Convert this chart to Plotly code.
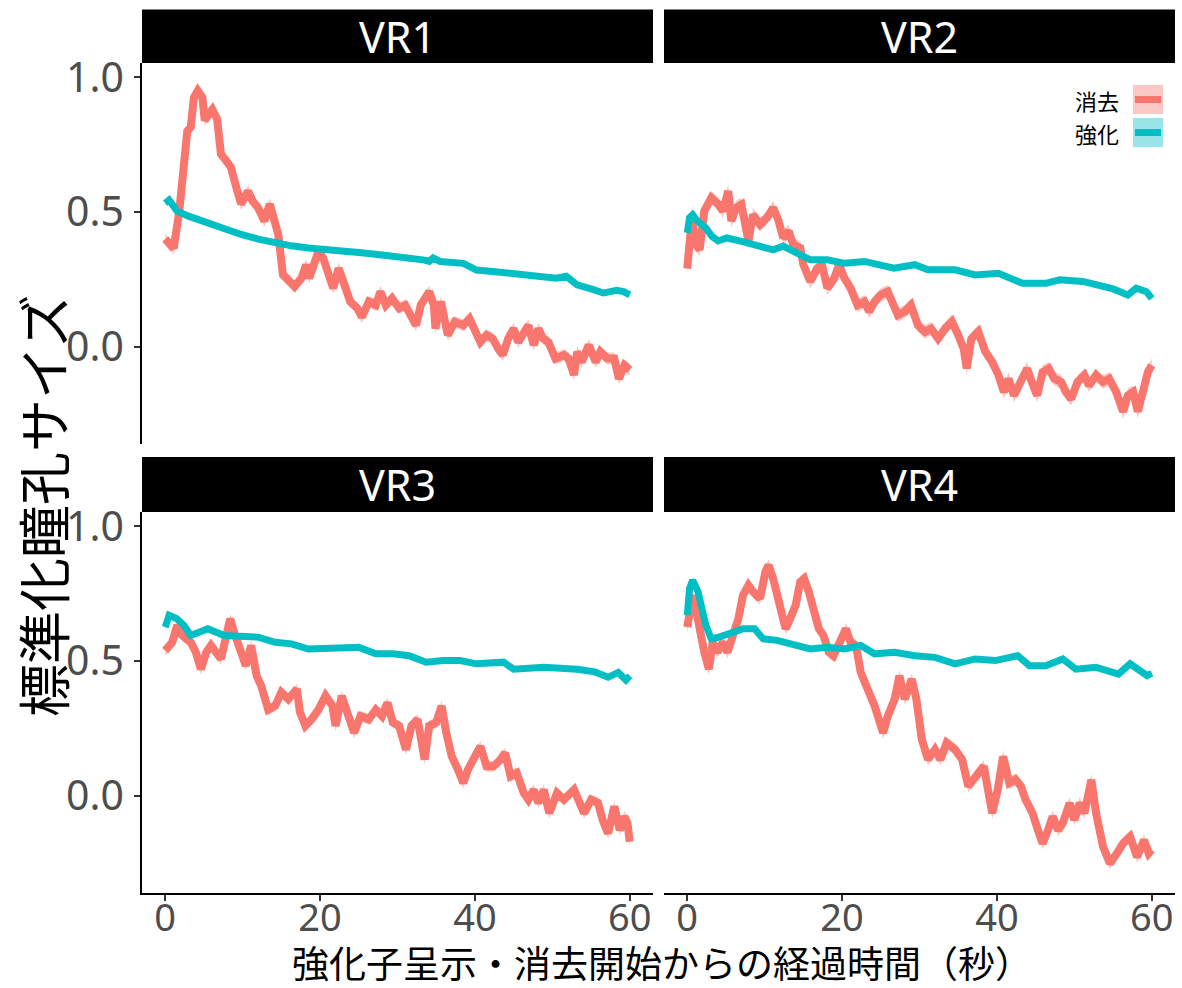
import plotly.graph_objects as go

# ---- data: mean normalized pupil size over time (s) per VR schedule ----
panels = ["VR1", "VR2", "VR3", "VR4"]
conditions = ["消去", "強化"]

ext_vr1 = [(0.0, 0.40), (0.5, 0.38), (1.1, 0.366), (1.8, 0.50), (2.4, 0.68), (2.85, 0.80),
           (3.3, 0.815), (3.7, 0.925), (4.2, 0.95), (4.8, 0.925), (5.1, 0.84), (5.7, 0.87),
           (6.1, 0.88), (6.7, 0.845), (7.2, 0.715), (7.9, 0.69), (8.5, 0.665), (9.1, 0.60),
           (9.8, 0.53), (10.7, 0.578), (11.3, 0.54), (12.0, 0.516), (12.8, 0.467), (13.5, 0.53),
           (14.1, 0.48), (14.6, 0.417), (15.2, 0.268), (15.9, 0.248), (16.7, 0.224), (17.6, 0.255),
           (18.2, 0.305), (18.6, 0.255), (19.3, 0.33), (19.8, 0.355), (20.4, 0.33), (21.1, 0.268),
           (21.7, 0.218), (22.4, 0.292), (23.0, 0.243), (23.9, 0.168), (24.8, 0.144), (25.4, 0.111),
           (26.3, 0.168), (27.2, 0.155), (27.8, 0.205), (28.5, 0.155), (29.3, 0.18), (30.2, 0.144),
           (31.0, 0.155), (31.7, 0.118), (32.4, 0.08), (33.0, 0.155), (34.1, 0.205), (34.7, 0.155),
           (34.9, 0.068), (35.6, 0.168), (36.5, 0.044), (37.4, 0.093), (38.5, 0.08), (39.3, 0.105),
           (40.0, 0.068), (40.7, 0.018), (41.5, 0.044), (42.3, 0.031), (43.0, -0.006), (43.6, -0.03),
           (44.3, 0.031), (45.0, 0.068), (45.6, 0.018), (46.3, 0.056), (46.9, 0.08), (47.6, 0.007),
           (48.2, 0.068), (48.8, 0.031), (49.5, 0.018), (50.4, -0.043), (51.5, -0.03), (52.1, -0.043),
           (52.8, -0.104), (53.2, -0.018), (53.8, -0.056), (54.7, 0.007), (55.6, -0.056), (56.2, -0.018),
           (57.1, -0.043), (58.0, -0.043), (58.6, -0.118), (59.3, -0.068), (60.0, -0.085)]

rei_vr1 = [(0.0, 0.533), (0.5, 0.545), (1.0, 0.525), (1.5, 0.504), (3.0, 0.485), (5.4, 0.46),
           (7.5, 0.44), (9.8, 0.417), (12.0, 0.40), (14.1, 0.385), (16.3, 0.375), (18.5, 0.367),
           (20.5, 0.36), (22.8, 0.354), (25.0, 0.35), (27.2, 0.344), (29.4, 0.338), (31.5, 0.33),
           (33.5, 0.322), (34.1, 0.317), (34.6, 0.33), (35.5, 0.317), (37.0, 0.315), (38.5, 0.31),
           (39.2, 0.30), (40.2, 0.285), (42.3, 0.28), (44.5, 0.273), (46.7, 0.265), (48.8, 0.255),
           (50.5, 0.255), (51.8, 0.262), (53.2, 0.23), (55.0, 0.215), (56.6, 0.20), (57.5, 0.205),
           (58.3, 0.21), (59.2, 0.205), (60.0, 0.193)]

ext_vr2 = [(0.0, 0.29), (0.3, 0.441), (0.6, 0.479), (1.15, 0.379), (1.6, 0.36), (2.2, 0.504),
           (3.1, 0.553), (4.0, 0.53), (4.6, 0.504), (5.3, 0.578), (5.7, 0.467), (6.3, 0.516),
           (7.0, 0.528), (7.9, 0.393), (8.5, 0.49), (9.4, 0.454), (10.3, 0.479), (11.1, 0.516),
           (11.8, 0.467), (12.4, 0.404), (13.1, 0.43), (13.7, 0.379), (14.6, 0.367), (15.0, 0.305),
           (15.9, 0.243), (16.8, 0.292), (17.4, 0.305), (18.1, 0.218), (19.0, 0.255), (19.6, 0.305),
           (20.3, 0.255), (21.1, 0.218), (22.0, 0.155), (22.9, 0.168), (23.5, 0.131), (24.2, 0.168),
           (25.0, 0.193), (25.9, 0.205), (26.5, 0.155), (27.2, 0.118), (28.1, 0.131), (28.9, 0.155),
           (29.8, 0.08), (30.7, 0.056), (31.5, 0.068), (32.4, 0.031), (33.3, 0.068), (34.2, 0.094),
           (35.0, 0.044), (35.7, -0.006), (36.1, -0.08), (36.7, 0.031), (37.6, 0.056), (38.5, -0.018),
           (39.4, -0.056), (40.2, -0.105), (40.9, -0.167), (41.5, -0.118), (42.2, -0.18), (43.0, -0.13),
           (43.9, -0.08), (44.5, -0.13), (45.2, -0.18), (45.9, -0.093), (46.7, -0.08), (47.4, -0.118),
           (48.3, -0.13), (48.9, -0.167), (49.6, -0.193), (50.4, -0.13), (51.3, -0.105), (51.9, -0.143),
           (52.8, -0.105), (53.7, -0.13), (54.5, -0.118), (55.4, -0.167), (56.3, -0.24), (56.9, -0.18),
           (57.6, -0.167), (58.2, -0.24), (58.8, -0.167), (59.5, -0.093), (60.0, -0.068)]

rei_vr2 = [(0.0, 0.423), (0.3, 0.479), (0.7, 0.49), (1.3, 0.467), (2.4, 0.441), (3.2, 0.41),
           (4.0, 0.393), (5.1, 0.404), (6.8, 0.393), (9.4, 0.374), (11.1, 0.36), (12.4, 0.374),
           (14.2, 0.348), (15.9, 0.323), (18.1, 0.323), (20.3, 0.31), (22.9, 0.317), (24.6, 0.305),
           (26.7, 0.292), (29.4, 0.305), (31.1, 0.286), (34.6, 0.286), (37.2, 0.267), (40.2, 0.273),
           (43.3, 0.236), (46.3, 0.236), (48.1, 0.249), (51.1, 0.243), (52.8, 0.23), (55.0, 0.215),
           (56.9, 0.193), (58.0, 0.218), (59.3, 0.205), (60.0, 0.18)]

ext_vr3 = [(0.0, 0.539), (0.9, 0.57), (1.55, 0.633), (2.2, 0.595), (3.3, 0.57), (3.95, 0.533),
           (4.6, 0.47), (5.3, 0.533), (5.9, 0.558), (6.5, 0.533), (7.2, 0.508), (7.8, 0.583),
           (8.4, 0.657), (8.9, 0.607), (9.6, 0.545), (10.4, 0.483), (11.1, 0.558), (11.8, 0.446),
           (12.4, 0.408), (13.3, 0.32), (14.2, 0.334), (15.0, 0.384), (15.9, 0.359), (17.0, 0.396),
           (17.4, 0.31), (18.1, 0.26), (18.9, 0.284), (19.8, 0.32), (20.7, 0.371), (21.6, 0.334),
           (22.0, 0.26), (22.8, 0.371), (23.5, 0.31), (24.4, 0.234), (25.2, 0.296), (26.3, 0.284),
           (27.2, 0.32), (28.0, 0.296), (28.7, 0.346), (29.4, 0.272), (30.2, 0.26), (31.1, 0.172),
           (31.8, 0.26), (32.6, 0.284), (33.5, 0.135), (34.1, 0.26), (35.0, 0.272), (35.7, 0.334),
           (36.3, 0.234), (37.0, 0.147), (37.8, 0.098), (38.5, 0.048), (39.1, 0.098), (40.0, 0.147),
           (40.7, 0.184), (41.5, 0.11), (42.4, 0.11), (43.3, 0.135), (43.9, 0.16), (44.6, 0.073),
           (45.4, 0.085), (46.3, 0.011), (46.9, -0.014), (47.6, 0.023), (48.2, -0.026), (48.9, 0.023),
           (49.6, -0.064), (50.6, 0.011), (51.5, -0.014), (52.8, 0.023), (53.5, -0.026), (54.1, -0.064),
           (55.0, -0.014), (55.9, -0.026), (56.5, -0.089), (57.2, -0.139), (58.0, -0.039), (58.7, -0.127),
           (59.3, -0.076), (59.7, -0.10), (60.0, -0.17)]

rei_vr3 = [(0.0, 0.626), (0.5, 0.67), (1.5, 0.657), (2.4, 0.633), (3.3, 0.595), (4.2, 0.607),
           (5.5, 0.62), (7.6, 0.595), (9.8, 0.589), (12.0, 0.589), (14.2, 0.57), (16.3, 0.564),
           (18.5, 0.545), (20.7, 0.545), (22.8, 0.545), (25.0, 0.551), (27.2, 0.527), (29.4, 0.527),
           (31.5, 0.52), (33.7, 0.496), (35.9, 0.502), (38.1, 0.502), (40.2, 0.49), (43.7, 0.496),
           (45.0, 0.47), (48.9, 0.477), (53.2, 0.47), (55.5, 0.46), (57.2, 0.44), (58.5, 0.458),
           (59.5, 0.43), (60.0, 0.445)]

ext_vr4 = [(0.0, 0.626), (0.3, 0.682), (0.7, 0.744), (1.2, 0.682), (1.8, 0.583), (2.2, 0.533),
           (2.8, 0.47), (3.3, 0.57), (3.9, 0.533), (4.6, 0.57), (5.2, 0.533), (5.95, 0.607),
           (6.6, 0.657), (7.2, 0.744), (7.9, 0.781), (8.5, 0.757), (9.4, 0.732), (10.1, 0.831),
           (10.5, 0.856), (11.1, 0.806), (11.8, 0.72), (12.7, 0.62), (13.3, 0.657), (14.0, 0.707),
           (14.6, 0.794), (15.1, 0.806), (15.7, 0.757), (16.3, 0.682), (17.0, 0.62), (17.6, 0.595),
           (18.3, 0.533), (18.9, 0.52), (19.6, 0.558), (20.5, 0.62), (21.1, 0.57), (21.8, 0.558),
           (22.4, 0.459), (23.3, 0.396), (24.2, 0.334), (25.3, 0.234), (25.9, 0.296), (26.8, 0.359),
           (27.4, 0.446), (28.1, 0.359), (29.0, 0.433), (29.6, 0.359), (30.3, 0.21), (31.1, 0.135),
           (32.0, 0.172), (32.7, 0.135), (33.5, 0.197), (34.6, 0.172), (35.5, 0.135), (36.3, 0.036),
           (37.2, 0.073), (38.3, 0.11), (39.4, -0.064), (40.1, 0.023), (40.8, 0.147), (41.6, 0.048),
           (42.4, 0.061), (43.1, 0.036), (43.7, -0.014), (44.6, -0.064), (45.3, -0.127), (45.9, -0.176),
           (46.6, -0.127), (47.2, -0.076), (47.9, -0.127), (48.5, -0.101), (49.4, -0.026), (50.0, -0.089),
           (50.7, -0.026), (51.3, -0.064), (52.2, 0.06), (52.8, -0.064), (53.7, -0.188), (54.6, -0.25),
           (55.5, -0.213), (56.3, -0.176), (57.2, -0.151), (58.1, -0.226), (59.0, -0.164), (59.6, -0.213),
           (60.0, -0.2)]

rei_vr4 = [(0.0, 0.67), (0.3, 0.769), (0.7, 0.80), (1.4, 0.757), (2.0, 0.682), (2.4, 0.633),
           (3.1, 0.583), (4.1, 0.589), (5.95, 0.607), (7.2, 0.62), (8.7, 0.62), (9.8, 0.583),
           (11.6, 0.577), (13.7, 0.564), (15.9, 0.545), (18.1, 0.551), (20.3, 0.545), (22.4, 0.558),
           (24.2, 0.527), (26.8, 0.533), (29.4, 0.52), (32.0, 0.514), (34.6, 0.49), (37.2, 0.508),
           (39.8, 0.502), (42.7, 0.52), (44.2, 0.483), (46.3, 0.483), (48.5, 0.508), (50.2, 0.47),
           (52.8, 0.477), (55.7, 0.452), (57.2, 0.49), (59.4, 0.446), (60.0, 0.455)]

# standard error half-width of the ribbon, per panel
se_ext = [0.022, 0.025, 0.02, 0.022]
se_rei = [0.008, 0.008, 0.008, 0.008]

x_ticks = [0, 20, 40, 60]
y_ticks = [0.0, 0.5, 1.0]
y_ticklabels = ["0.0", "0.5", "1.0"]

ext_series = [ext_vr1, ext_vr2, ext_vr3, ext_vr4]
rei_series = [rei_vr1, rei_vr2, rei_vr3, rei_vr4]

RED = "#F8766D"
CYAN = "#00BFC4"
RED_FILL = "rgba(248,118,109,0.4)"
CYAN_FILL = "rgba(0,191,196,0.4)"

W, H = 1182, 988
LATIN = "Noto Sans"
CJK = "Noto Sans CJK JP"


def fx(p):
    return p / W


def fy(p):
    return 1 - p / H


# panel geometry (pixels)
cols = [(142, 653), (664, 1175)]
rows = [(63, 444), (512, 893)]
strip_h = [(9.5, 63), (457, 512)]

fig = go.Figure()


def ribbon(series, se, color, ax):
    t = [p[0] for p in series]
    v = [p[1] for p in series]
    upper = [y + se for y in v]
    lower = [y - se for y in v]
    return go.Scatter(x=t + t[::-1], y=upper + lower[::-1], fill="toself",
                      fillcolor=color, line=dict(width=0), mode="lines",
                      hoverinfo="skip", showlegend=False,
                      xaxis="x" + ax, yaxis="y" + ax)


def line(series, color, width, ax, name):
    return go.Scatter(x=[p[0] for p in series], y=[p[1] for p in series],
                      mode="lines", line=dict(color=color, width=width),
                      name=name, showlegend=False,
                      xaxis="x" + ax, yaxis="y" + ax)


for i, name in enumerate(panels):
    ax = "" if i == 0 else str(i + 1)
    fig.add_trace(ribbon(ext_series[i], se_ext[i], RED_FILL, ax))
    fig.add_trace(ribbon(rei_series[i], se_rei[i], CYAN_FILL, ax))
    fig.add_trace(line(ext_series[i], RED, 8, ax, conditions[0]))
    fig.add_trace(line(rei_series[i], CYAN, 7, ax, conditions[1]))

y_tick_font = dict(family=LATIN, size=41, color="#4D4D4D")
x_tick_font = dict(family=LATIN, size=38, color="#4D4D4D")
layout = dict(
    width=W, height=H,
    margin=dict(l=0, r=0, t=0, b=0, autoexpand=False),
    paper_bgcolor="white", plot_bgcolor="white",
    showlegend=False,
)

shapes = []
annotations = []

for i, name in enumerate(panels):
    r, c = divmod(i, 2)
    ax = "" if i == 0 else str(i + 1)
    x0, x1 = cols[c]
    y0, y1 = rows[r]
    bottom = r == 1
    left = c == 0
    layout["xaxis" + ax] = dict(
        domain=[fx(x0), fx(x1)], range=[-3, 63], anchor="y" + ax, automargin=False,
        tickvals=x_ticks, showgrid=False, zeroline=False,
        showline=bottom, linecolor="black", linewidth=1.6,
        ticks="outside" if bottom else "", ticklen=6, tickwidth=1.6, tickcolor="#333333",
        showticklabels=bottom, tickfont=x_tick_font, ticklabelstandoff=-15,
    )
    layout["yaxis" + ax] = dict(
        domain=[fy(y1), fy(y0)], range=[-0.36, 1.053], anchor="x" + ax, automargin=False,
        tickvals=y_ticks, ticktext=y_ticklabels, showgrid=False, zeroline=False,
        showline=left, linecolor="black", linewidth=1.6,
        ticks="outside" if left else "", ticklen=6, tickwidth=1.6, tickcolor="#333333",
        showticklabels=left, tickfont=y_tick_font, ticklabelstandoff=2,
    )
    s0, s1 = strip_h[r]
    shapes.append(dict(type="rect", xref="paper", yref="paper",
                       x0=fx(x0), x1=fx(x1), y0=fy(s1), y1=fy(s0),
                       fillcolor="black", line=dict(width=0), layer="above"))
    annotations.append(dict(text=name, xref="paper", yref="paper",
                            x=fx((x0 + x1) / 2), y=fy((s0 + s1) / 2),
                            xanchor="center", yanchor="middle", showarrow=False,
                            font=dict(family=LATIN, size=43, color="white")))

# axis titles
annotations.append(dict(text="強化子呈示・消去開始からの経過時間（秒）", xref="paper", yref="paper",
                        x=fx(662), y=fy(962), xanchor="center", yanchor="middle",
                        showarrow=False, font=dict(family=CJK, size=37, color="black")))
annotations.append(dict(text="標準化瞳孔サイズ", xref="paper", yref="paper",
                        x=fx(42), y=fy(506), xanchor="center", yanchor="middle",
                        textangle=-90, showarrow=False,
                        font=dict(family=CJK, size=53, color="black")))

# legend inside the VR2 panel
legend_items = [(conditions[0], RED, RED_FILL, 99.5), (conditions[1], CYAN, CYAN_FILL, 132.5)]
for label, col, fill, yc in legend_items:
    shapes.append(dict(type="rect", xref="paper", yref="paper",
                       x0=fx(1133), x1=fx(1163), y0=fy(yc + 14.5), y1=fy(yc - 14.5),
                       fillcolor=fill, line=dict(width=0)))
    shapes.append(dict(type="line", xref="paper", yref="paper",
                       x0=fx(1135), x1=fx(1161), y0=fy(yc), y1=fy(yc),
                       line=dict(color=col, width=7)))
    annotations.append(dict(text=label, xref="paper", yref="paper",
                            x=fx(1121), y=fy(yc), xanchor="right", yanchor="middle",
                            showarrow=False, font=dict(family=CJK, size=22, color="black")))

layout["shapes"] = shapes
layout["annotations"] = annotations
fig.update_layout(**layout)

fig.write_html("out.html")
